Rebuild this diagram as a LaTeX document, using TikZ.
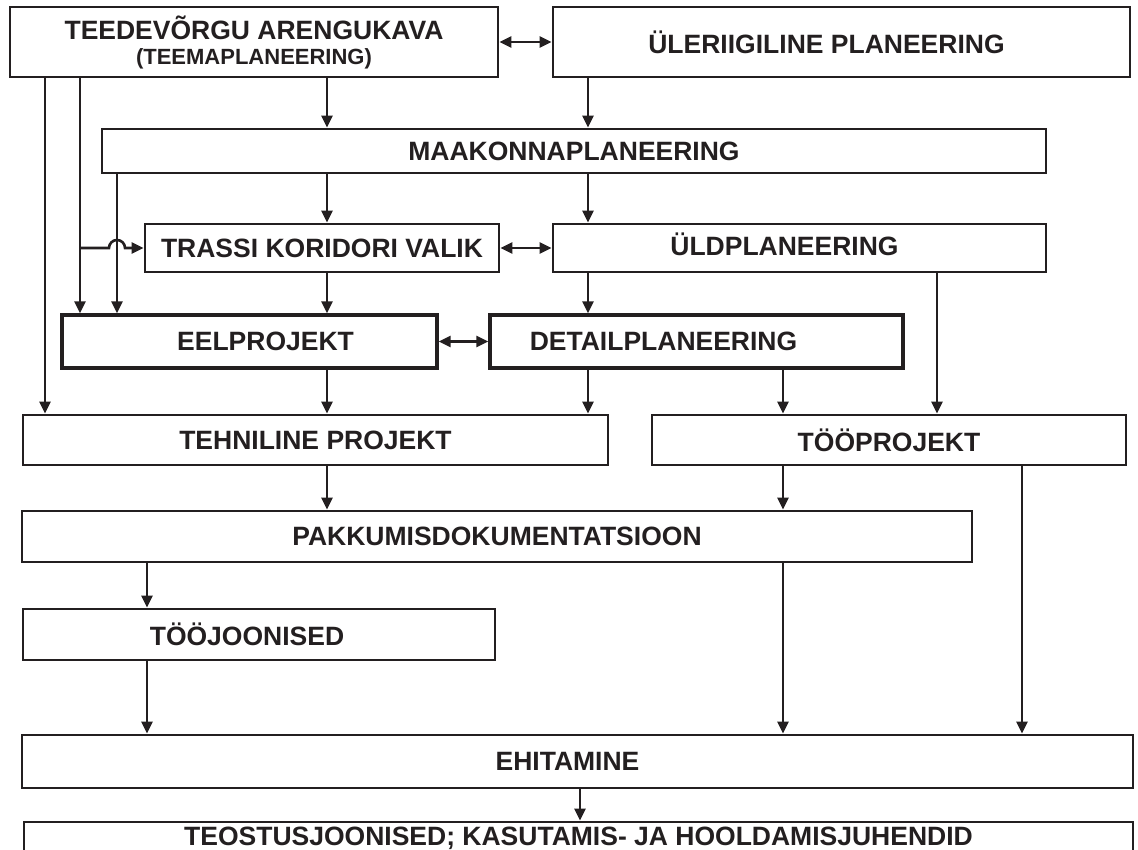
\documentclass[tikz,border=0pt]{standalone}
\usepackage{fontspec}
\setmainfont{Liberation Sans}
\usetikzlibrary{arrows.meta}
\definecolor{ink}{HTML}{231F20}
\tikzset{blok/.style={
		draw=ink,
		line width=2.8pt,
		inner sep=0pt,
		text=ink,
		font=\bfseries\fontsize{26.5}{28}\selectfont},
	kiri/.style={
		text=ink,
		font=\bfseries\fontsize{26.5}{28}\selectfont},
	nool/.style={
		draw=ink,
		line width=2.6pt,
		-{Triangle[length=12pt,width=11pt]}},
	kaks/.style={
		nool,
		{Triangle[length=12pt,width=11pt]}-{Triangle[length=12pt,width=11pt]}}
	}

\begin{document}
\begin{tikzpicture}[x=1pt,y=-1pt]
	\useasboundingbox (0,0) rectangle (1138,850);
	% columns for the vertical arrows
	\coordinate (kA) at (45,0);
	\coordinate (kB) at (80,0);
	\coordinate (kC) at (117,0);
	\coordinate (kD) at (147,0);
	\coordinate (kE) at (327,0);
	\coordinate (kJ) at (580,0);
	\coordinate (kF) at (588,0);
	\coordinate (kG) at (783,0);
	\coordinate (kH) at (937,0);
	\coordinate (kI) at (1022,0);

	% boxes
	\node [blok, minimum width=488, minimum height=70, align=center] (arengukava) at (254,42)
		{TEEDEVÕRGU ARENGUKAVA\\[-3pt]\fontsize{22}{24}\selectfont(TEEMAPLANEERING)};
	\node [blok, minimum width=577, minimum height=70,
		label={[kiri,xshift=-15pt]center:ÜLERIIGILINE PLANEERING}] (yleriigiline) at (841.5,42) {};
	\node [blok, minimum width=944, minimum height=44] (maakond) at (574,151) {MAAKONNAPLANEERING};
	\node [blok, minimum width=354, minimum height=48] (trassi) at (322,248) {TRASSI KORIDORI VALIK};
	\node [blok, minimum width=493, minimum height=48,
		label={[kiri,xshift=-15pt,yshift=4pt]center:ÜLDPLANEERING}] (yld) at (799.5,248) {};
	\node [blok, line width=3.4pt, minimum width=375, minimum height=53,
		label={[kiri,xshift=16pt]center:EELPROJEKT}] (eel) at (249.5,341.5) {};
	\node [blok, line width=3.4pt, minimum width=413, minimum height=53,
		label={[kiri,xshift=-33pt]center:DETAILPLANEERING}] (detail) at (696.5,341.5) {};
	\node [blok, minimum width=585, minimum height=50] (tehniline) at (315.5,440) {TEHNILINE PROJEKT};
	\node [blok, minimum width=474, minimum height=50] (tooprojekt) at (889,440) {TÖÖPROJEKT};
	\node [blok, minimum width=950, minimum height=51] (pakkumine) at (497,536.5) {PAKKUMISDOKUMENTATSIOON};
	\node [blok, minimum width=472, minimum height=51,
		label={[kiri,xshift=-12pt]center:TÖÖJOONISED}] (toojoon) at (259,634.5) {};
	\node [blok, minimum width=1111, minimum height=53,
		label={[kiri,xshift=-10pt]center:EHITAMINE}] (ehitamine) at (577.5,761.5) {};
	\node [blok, minimum width=1109, minimum height=60,
		label={[kiri,yshift=14pt]center:TEOSTUSJOONISED; KASUTAMIS- JA HOOLDAMISJUHENDID}] (teostus) at (578.5,852) {};

	% two-way links
	\draw [kaks] (arengukava.east) -- (yleriigiline.west);
	\draw [kaks] (trassi.east) -- (yld.west);
	\draw [kaks] (eel.east) -- (detail.west);

	% top level
	\draw [nool] (arengukava.south -| kE) -- (maakond.north -| kE);
	\draw [nool] (yleriigiline.south -| kF) -- (maakond.north -| kF);
	\draw [nool] (arengukava.south -| kA) -- (tehniline.north -| kA);
	\draw [nool] (arengukava.south -| kB) -- (eel.north -| kB);
	\draw [nool] (maakond.south -| kC) -- (eel.north -| kC);
	% branch that hops over the line from maakond
	\draw [nool] (kB |- trassi.west) -- ([xshift=-8pt]kC |- trassi.west)
		arc (180:360:8) -- (trassi.west);

	\draw [nool] (maakond.south -| kE) -- (trassi.north -| kE);
	\draw [nool] (maakond.south -| kF) -- (yld.north -| kF);
	\draw [nool] (trassi.south -| kE) -- (eel.north -| kE);
	\draw [nool] (yld.south -| kF) -- (detail.north -| kF);
	\draw [nool] (yld.south -| kH) -- (tooprojekt.north -| kH);

	\draw [nool] (eel.south -| kE) -- (tehniline.north -| kE);
	\draw [nool] (detail.south -| kF) -- (tehniline.north -| kF);
	\draw [nool] (detail.south -| kG) -- (tooprojekt.north -| kG);

	\draw [nool] (tehniline.south -| kE) -- (pakkumine.north -| kE);
	\draw [nool] (tooprojekt.south -| kG) -- (pakkumine.north -| kG);
	\draw [nool] (tooprojekt.south -| kI) -- (ehitamine.north -| kI);

	\draw [nool] (pakkumine.south -| kD) -- (toojoon.north -| kD);
	\draw [nool] (pakkumine.south -| kG) -- (ehitamine.north -| kG);
	\draw [nool] (toojoon.south -| kD) -- (ehitamine.north -| kD);
	\draw [nool] (ehitamine.south -| kJ) -- (teostus.north -| kJ);
\end{tikzpicture}
\end{document}
